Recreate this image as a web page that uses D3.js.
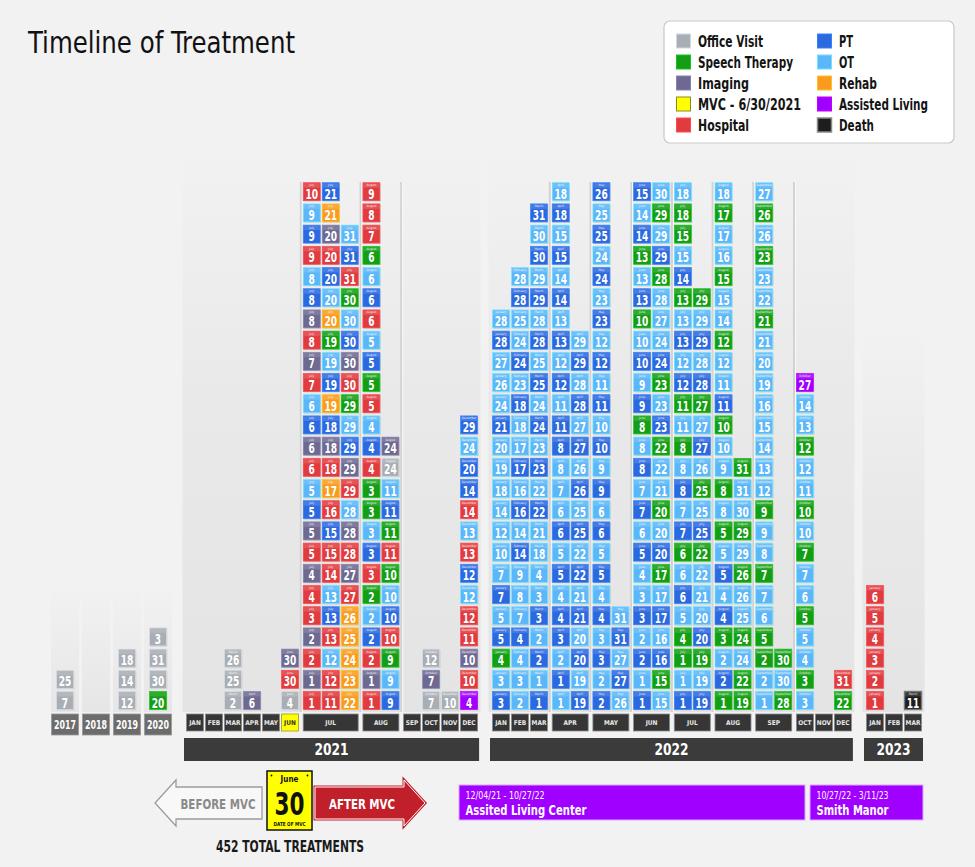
<!DOCTYPE html>
<html><head><meta charset="utf-8">
<script src="https://cdn.jsdelivr.net/npm/d3@7"></script>
<style>body{margin:0;background:#f2f2f2;} svg{display:block}</style>
</head><body><svg id="c" width="975" height="867"></svg>
<script>
// ================= DATA =================
const typeCodes  = ["O","S","I","M","H","P","T","R","A","D"];
const typeNames  = ["Office Visit","Speech Therapy","Imaging","MVC - 6/30/2021","Hospital","PT","OT","Rehab","Assisted Living","Death"];
const typeColors = ["#a9aeb4","#139e16","#6d6990","#ffff00","#e03b3f","#2b69df","#5bb6fa","#fb9b1d","#a000ff","#1d1d1d"];
const monthAbbr  = ["JAN","FEB","MAR","APR","MAY","JUN","JUL","AUG","SEP","OCT","NOV","DEC"];
const monthNames = ["January","February","March","April","May","June","July","August","September","October","November","December"];

// treatments before 2021 (one column per year, bottom -> top, day+type)
const earlyYears = ["2017","2018","2019","2020"];
const earlyTreatments = ["7O 25O", "", "12O 14O 18O", "20S 30O 31O 3O"];

// each month: list of columns, each column bottom -> top
const year2021 = [
  [], [], ["2O 25O 26O"], ["6I"], [], ["4O 30H 30I"],
  ["1H 1I 2H 2I 3H 4H 4I 5H 5I 5P 5T 6H 6I 6P 6T 7H 7I 8H 8I 8P 8T 9H 9P 9T 10H",
   "11H 12H 12T 13H 13P 13T 14H 15H 15P 16H 17R 18H 18I 18P 19R 19P 19T 19S 20R 20T 20P 20H 20I 21R 21P",
   "22R 23R 24R 25R 26R 27H 27I 28H 28I 28T 29H 29I 29P 29T 29S 30H 30I 30P 30T 30S 31H 31P 31T"],
  ["1H 1I 2H 2P 2T 2S 3H 3P 3T 3S 3S 4H 4P 4T 5H 5S 5P 5T 6H 6P 6T 6S 7H 8H 9H",
   "9P 9T 9S 10H 10P 10T 10S 11H 11S 11P 11T 24O 24I"],
  [], ["7O 7I 12O"], ["10O"],
  ["4A 10H 10I 11H 12H 12T 12P 13H 13T 14H 14P 20P 24T 29P"]
];
const year2022 = [
  ["3P 3T 4S 5P 5T 7P 7T 10T 12T 14T 18T 19T 20T 21P 24T 26T 27T 28P 28T"],
  ["2T 3T 4T 4P 7T 8T 9T 14P 14T 16P 16T 17P 17T 18T 18P 23T 24P 24T 25T 28P 28T"],
  ["1P 1T 2P 2T 3P 3T 4T 18T 21T 22P 22T 23P 23T 24P 24T 25P 25T 28P 28T 29P 29T 30P 30T 31P"],
  ["1T 1P 2T 3P 4P 4T 5P 5T 6P 6T 7T 8T 8P 11P 11T 12P 12T 13P 13T 14P 14T 15P 15T 18P 18T",
   "19P 19T 20P 20T 21P 21T 22P 22T 25P 25T 26P 26T 27P 27T 28P 28T 29P 29T"],
  ["2P 2T 3P 3T 4P 4T 5P 5T 6P 6T 9P 9T 10P 10T 11P 11T 12P 12T 23P 23T 24P 24T 25P 25T 26P",
   "26T 27P 27T 31P 31T"],
  ["1P 1T 2P 2T 3P 3T 4T 5P 6T 7P 7T 8P 8T 8S 9P 9T 10P 10T 10S 13P 13T 13S 14P 14T 15P",
   "15T 15S 16P 16T 17P 17T 17S 20P 20T 20S 21T 22T 22S 23P 23T 23S 24P 24T 27T 28T 28S 29P 29T 29S 30T"],
  ["1P 1T 1S 4S 5T 6P 6T 6S 7P 7T 8P 8T 8S 11T 11S 12P 12T 13P 13T 13S 14P 15T 15S 18S 18T",
   "19P 19T 19S 20P 20T 21T 22T 22S 25P 25T 25S 26T 27P 27T 27S 28P 28T 29P 29T 29S"],
  ["1S 2P 2T 3S 4P 4T 5P 5T 5S 8T 8S 9T 10T 10S 11P 11T 12T 12S 14T 15T 15S 16T 17T 17S 18T",
   "19S 22S 24T 24S 25T 26T 26S 29T 29S 30T 31T 31S"],
  ["1T 2T 2S 5S 6T 7T 7S 8T 9T 9S 12T 13T 14T 15T 16T 19T 20T 21T 21S 22T 23T 23S 26T 26S 27T",
   "28S 30T 30S"],
  ["3T 3S 4T 5T 5S 6T 7T 7S 10T 10S 11T 12T 12S 13T 14T 27A"],
  [],
  ["22S 31H"]
];
const year2023 = [["1H 2H 3H 4H 5H 6H"], [], ["11D"]];

const yearLabels = ["2021","2022","2023"];
const mvcMonth = {year:"2021", month:5};
const totalLabel = "452 TOTAL TREATMENTS";
const residences = [
  {dates:"12/04/21 - 10/27/22", name:"Assited Living Center"},
  {dates:"10/27/22 - 3/11/23", name:"Smith Manor"}
];

// ================= LAYOUT =================
const FONT = "'Liberation Sans Narrow','DejaVu Sans Condensed','Roboto Condensed',Roboto,sans-serif";
const svg = d3.select("#c");
const color = d3.scaleOrdinal().domain(typeCodes).range(typeColors);
const nameOf = d3.scaleOrdinal().domain(typeCodes).range(typeNames);
const yScale = d3.scaleLinear().domain([0, 24]).range([700.5, 191.7]);
const TW = 17, TH = 18, GAP = 21.7/19;
const parse = s => s.trim() ? s.trim().split(/\s+/).map(t => ({day:+t.slice(0,-1), type:t.slice(-1)})) : [];

const defs = svg.append("defs");
const grad = defs.append("linearGradient").attr("id","panelGrad").attr("x1",0).attr("x2",0).attr("y1",0).attr("y2",1);
grad.append("stop").attr("offset","0%").attr("stop-color","#f2f2f2");
grad.append("stop").attr("offset","45%").attr("stop-color","#e9e9e9");
grad.append("stop").attr("offset","100%").attr("stop-color","#e4e4e4");
const grad2 = defs.append("linearGradient").attr("id","stripGrad").attr("x1",0).attr("x2",0).attr("y1",0).attr("y2",1);
grad2.append("stop").attr("offset","0%").attr("stop-color","#f2f2f2");
grad2.append("stop").attr("offset","100%").attr("stop-color","#e6e6e6");

// title
svg.append("text").attr("x",28).attr("y",53).attr("font-family",FONT).attr("font-size",30)
  .attr("fill","#111").attr("textLength",267).attr("lengthAdjust","spacingAndGlyphs").text("Timeline of Treatment");

// layout a year
function layoutYear(months, x0) {
  const x = d3.scaleLinear().domain([0,1]).range([x0, x0+19]);
  let u = 0; const cols = [], spans = [], seps = [];
  months.forEach((m, i) => {
    const n = Math.max(1, m.length);
    if (i > 0) {
      const pn = Math.max(1, months[i-1].length);
      if (n > 1 || pn > 1) { seps.push(x(u + GAP/2)); u += GAP; } else u += 1;
    }
    const start = u;
    for (let c = 0; c < n; c++) { if (c > 0) u += 1; cols.push({month:i, x:x(u), items:parse(m[c] || "")}); }
    spans.push({month:i, x0:x(start)-TW/2, x1:x(u)+TW/2});
  });
  return {cols, spans, seps};
}
const L2021 = layoutYear(year2021, 195);
const L2022 = layoutYear(year2022, 501);
const L2023 = layoutYear(year2023, 875);
const layouts = [L2021, L2022, L2023];

// panels
const panelTop = [145, 145, 330];
layouts.forEach((L, i) => {
  const a = L.spans[0].x0 - 4, b = L.spans[L.spans.length-1].x1 + 3;
  svg.append("rect").attr("x",a).attr("y",panelTop[i]).attr("width",b-a).attr("height",712-panelTop[i]).attr("fill","url(#panelGrad)");
});
const xEarly = d3.scalePoint().domain(earlyYears).range([65, 158]);
earlyYears.forEach(yr => {
  svg.append("rect").attr("x",xEarly(yr)-14).attr("y",585).attr("width",28).attr("height",127).attr("fill","url(#stripGrad)");
});

// separators
layouts.forEach(L => L.seps.forEach(sx => {
  svg.append("rect").attr("x",sx-1).attr("y",182).attr("width",2).attr("height",530).attr("fill","#d2d2d2");
  svg.append("rect").attr("x",sx+1).attr("y",182).attr("width",1).attr("height",530).attr("fill","#fafafa");
}));

// tiles
function drawTile(g, cx, k, d, mName) {
  const cy = yScale(k), c = color(d.type);
  const t = g.append("g");
  t.append("rect").attr("x",cx-TW/2+0.8).attr("y",cy-TH/2+0.8).attr("width",TW).attr("height",TH).attr("fill","rgba(0,0,0,0.13)");
  t.append("rect").attr("x",cx-TW/2).attr("y",cy-TH/2).attr("width",TW).attr("height",TH)
    .attr("fill",c).attr("stroke", d.type==="D" ? "#777" : d3.color(c).brighter(0.7)).attr("stroke-width", d.type==="D"?1.4:0.7);
  t.append("rect").attr("x",cx-TW/2+0.5).attr("y",cy-TH/2+0.5).attr("width",TW-1).attr("height",4.5).attr("fill","#fff").attr("opacity",0.13);
  if (mName) t.append("text").attr("x",cx).attr("y",cy-5.6).attr("text-anchor","middle").attr("font-family",FONT)
    .attr("font-size",3.2).attr("fill","#fff").attr("opacity",0.85).text(mName);
  const s = String(d.day);
  t.append("text").attr("x",cx).attr("y",cy+7).attr("text-anchor","middle").attr("font-family",FONT)
    .attr("font-weight","bold").attr("font-size",13.5).attr("fill","#fff")
    .attr("textLength", s.length*6.3).attr("lengthAdjust","spacingAndGlyphs").text(s);
}
const gT = svg.append("g");
earlyYears.forEach((yr, i) => parse(earlyTreatments[i]).forEach((d, k) => drawTile(gT, xEarly(yr), k, d, "")));
layouts.forEach(L => L.cols.forEach(col => col.items.forEach((d, k) => drawTile(gT, col.x, k, d, monthNames[col.month]))));

// early year labels
earlyYears.forEach(yr => {
  svg.append("rect").attr("x",xEarly(yr)-13.5).attr("y",714).attr("width",27).attr("height",21)
    .attr("fill","#6c6c6c").attr("stroke","#9a9a9a").attr("stroke-width",0.8);
  svg.append("text").attr("x",xEarly(yr)).attr("y",729).attr("text-anchor","middle").attr("font-family",FONT)
    .attr("font-weight","bold").attr("font-size",12).attr("fill","#fff").attr("textLength",22).attr("lengthAdjust","spacingAndGlyphs").text(yr);
});

// month labels + year bars
layouts.forEach((L, i) => {
  L.spans.forEach(sp => {
    const isMvc = yearLabels[i]===mvcMonth.year && sp.month===mvcMonth.month;
    svg.append("rect").attr("x",sp.x0).attr("y",714).attr("width",sp.x1-sp.x0).attr("height",17)
      .attr("fill", isMvc ? "#ffff00" : "#363636").attr("stroke", isMvc ? "#9a9a30" : "#8a8a8a").attr("stroke-width",0.8);
    svg.append("text").attr("x",(sp.x0+sp.x1)/2).attr("y",725.2).attr("text-anchor","middle").attr("font-family",FONT)
      .attr("font-weight","bold").attr("font-size",6.5).attr("fill", isMvc ? "#333" : "#e8e8e8").text(monthAbbr[sp.month]);
  });
  const a = L.spans[0].x0 - 2.5, b = L.spans[L.spans.length-1].x1 + 1.5;
  svg.append("rect").attr("x",a).attr("y",738).attr("width",b-a).attr("height",23).attr("fill","#3b3b3b");
  svg.append("text").attr("x",(a+b)/2).attr("y",755).attr("text-anchor","middle").attr("font-family",FONT)
    .attr("font-weight","bold").attr("font-size",15).attr("fill","#fff").attr("textLength",34).attr("lengthAdjust","spacingAndGlyphs").text(yearLabels[i]);
});

// legend
const legendWidths = [65, 95, 51, 103, 51, 14, 15, 38, 89, 35];
svg.append("rect").attr("x",664).attr("y",21).attr("width",290).attr("height",122).attr("rx",6)
  .attr("fill","#fff").attr("stroke","#c9c9c9").attr("stroke-width",1.2);
typeCodes.forEach((code, i) => {
  const col = i < 5 ? 0 : 1, row = i % 5;
  const sx = col ? 817 : 676, cy = 41 + row*21;
  const c = color(code);
  svg.append("rect").attr("x",sx+0.5).attr("y",cy-7).attr("width",14).attr("height",14).attr("fill",c)
    .attr("stroke", code==="M" ? "#8c8c1a" : code==="D" ? "#8a8a8a" : d3.color(c).brighter(0.6)).attr("stroke-width", code==="D"?1.5:1);
  svg.append("text").attr("x",sx+22).attr("y",cy+5.5).attr("font-family",FONT).attr("font-weight","bold")
    .attr("font-size",16).attr("fill","#141414").attr("textLength",legendWidths[i]).attr("lengthAdjust","spacingAndGlyphs").text(nameOf(code));
});

// MVC arrows + calendar
const gB = svg.append("g");
gB.append("path").attr("d","M262,787 L176,787 L176,780 L155,803 L176,826 L176,819 L262,819 Z")
  .attr("fill","#f8f8f8").attr("stroke","#9c9c9c").attr("stroke-width",1.3);
gB.append("text").attr("x",218).attr("y",808.5).attr("text-anchor","middle").attr("font-family",FONT).attr("font-weight","bold")
  .attr("font-size",14).attr("fill","#8a8a8a").attr("textLength",75).attr("lengthAdjust","spacingAndGlyphs").text("BEFORE MVC");
const afterD = "M315,787 L404,787 L404,780 L425,803 L404,826 L404,819 L315,819 Z";
gB.append("path").attr("d",afterD).attr("fill","#c1202b").attr("stroke","#c1202b").attr("stroke-width",3);
gB.append("path").attr("d",afterD).attr("fill","none").attr("stroke","#fff").attr("stroke-width",1);
gB.append("text").attr("x",362).attr("y",808.5).attr("text-anchor","middle").attr("font-family",FONT).attr("font-weight","bold")
  .attr("font-size",14).attr("fill","#fff").attr("textLength",66).attr("lengthAdjust","spacingAndGlyphs").text("AFTER MVC");
gB.append("rect").attr("x",267).attr("y",771).attr("width",45).attr("height",59).attr("fill","#ffff00").attr("stroke","#111").attr("stroke-width",1.5);
gB.append("circle").attr("cx",271.5).attr("cy",775.5).attr("r",0.9).attr("fill","#111");
gB.append("circle").attr("cx",307.5).attr("cy",775.5).attr("r",0.9).attr("fill","#111");
gB.append("text").attr("x",289.5).attr("y",781.5).attr("text-anchor","middle").attr("font-family",FONT).attr("font-weight","bold")
  .attr("font-size",8).attr("fill","#111").text("June");
gB.append("text").attr("x",289.5).attr("y",815).attr("text-anchor","middle").attr("font-family",FONT).attr("font-weight","bold")
  .attr("font-size",32).attr("fill","#111").attr("textLength",30).attr("lengthAdjust","spacingAndGlyphs").text("30");
gB.append("text").attr("x",289.5).attr("y",826).attr("text-anchor","middle").attr("font-family",FONT).attr("font-weight","bold")
  .attr("font-size",5.5).attr("fill","#111").attr("textLength",32).attr("lengthAdjust","spacingAndGlyphs").text("DATE OF MVC");
gB.append("text").attr("x",290).attr("y",852).attr("text-anchor","middle").attr("font-family",FONT).attr("font-weight","bold")
  .attr("font-size",16).attr("fill","#1a1a1a").attr("textLength",148).attr("lengthAdjust","spacingAndGlyphs").text(totalLabel);

// residence bars
const resBoxes = [{x:459, w:346, t1:79, t2:121}, {x:810, w:113, t1:72, t2:72}];
residences.forEach((r, i) => {
  const b = resBoxes[i];
  gB.append("rect").attr("x",b.x).attr("y",785).attr("width",b.w).attr("height",35).attr("fill","#a000ff").attr("stroke","#d9a8ff").attr("stroke-width",1);
  gB.append("text").attr("x",b.x+6.5).attr("y",799).attr("font-family",FONT).attr("font-size",10).attr("fill","#fff")
    .attr("textLength",b.t1).attr("lengthAdjust","spacingAndGlyphs").text(r.dates);
  gB.append("text").attr("x",b.x+6.5).attr("y",814.5).attr("font-family",FONT).attr("font-weight","bold").attr("font-size",13.5).attr("fill","#fff")
    .attr("textLength",b.t2).attr("lengthAdjust","spacingAndGlyphs").text(r.name);
});
</script></body></html>
